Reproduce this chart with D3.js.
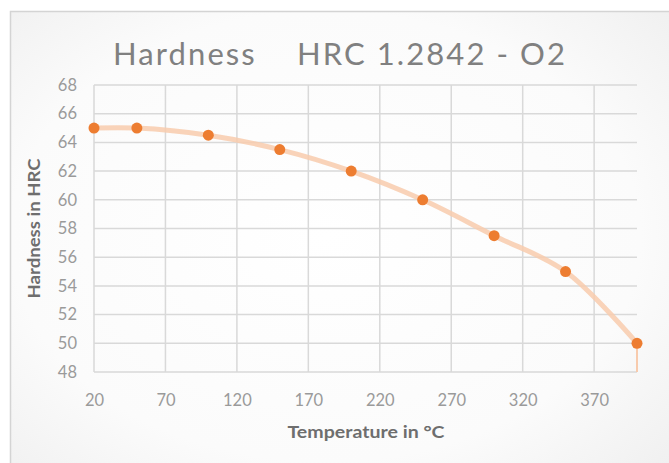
<!DOCTYPE html>
<html>
<head>
<meta charset="utf-8">
<script src="https://cdn.jsdelivr.net/npm/d3@7"></script>
<style>
  body { margin: 0; background: #fff; }
  text { font-family: Lato, "Open Sans", sans-serif; }
</style>
</head>
<body>
<svg id="chart" width="669" height="463"></svg>
<script>
var temps = [20, 50, 100, 150, 200, 250, 300, 350, 400];
var hardness = [65, 65, 64.5, 63.5, 62, 60, 57.5, 55, 50];
var xTicks = [20, 70, 120, 170, 220, 270, 320, 370];
var yTicks = [48, 50, 52, 54, 56, 58, 60, 62, 64, 66, 68];

var svg = d3.select("svg#chart");

// backdrop with soft gradient
var defs = svg.append("defs");
var grad = defs.append("radialGradient")
    .attr("id", "bg")
    .attr("cx", "45%").attr("cy", "45%").attr("r", "75%");
grad.append("stop").attr("offset", "0%").attr("stop-color", "#ffffff");
grad.append("stop").attr("offset", "60%").attr("stop-color", "#fbfbfb");
grad.append("stop").attr("offset", "100%").attr("stop-color", "#ececec");

svg.append("rect")
    .attr("x", 10.5).attr("y", 11.5)
    .attr("width", 700).attr("height", 500)
    .attr("fill", "url(#bg)")
    .attr("stroke", "#d4d4d4")
    .attr("stroke-width", 1.5);

var x = d3.scaleLinear().domain([20, 400]).range([94, 637]);
var y = d3.scaleLinear().domain([48, 68]).range([372, 85]);

// grid
svg.append("g").selectAll("line.h")
    .data(yTicks)
    .enter()
    .append("line")
    .attr("x1", x(20)).attr("x2", x(400))
    .attr("y1", d => y(d)).attr("y2", d => y(d))
    .attr("stroke", "#d9d9d9")
    .attr("stroke-width", 1.5);

svg.append("g").selectAll("line.v")
    .data(xTicks)
    .enter()
    .append("line")
    .attr("x1", d => x(d)).attr("x2", d => x(d))
    .attr("y1", y(68)).attr("y2", y(48))
    .attr("stroke", "#d9d9d9")
    .attr("stroke-width", 1.5);

// axes labels via d3 axes, no lines
var yAxis = svg.append("g")
    .attr("transform", "translate(" + x(20) + ",0)")
    .call(d3.axisLeft(y).tickValues(yTicks).tickSize(0).tickPadding(17));
var xAxis = svg.append("g")
    .attr("transform", "translate(0," + y(48) + ")")
    .call(d3.axisBottom(x).tickValues(xTicks).tickSize(0).tickPadding(22));
[yAxis, xAxis].forEach(function(a) {
    a.select(".domain").remove();
    a.selectAll("text")
        .attr("fill", "#9a9a9a")
        .style("font-size", "16.5px")
        .style("font-family", "Lato, sans-serif");
});

// series
var pts = temps.map((t, i) => ({t: t, h: hardness[i]}));
var line = d3.line()
    .x(d => x(d.t))
    .y(d => y(d.h))
    .curve(d3.curveCatmullRom.alpha(0.5));

svg.append("path")
    .datum(pts)
    .attr("d", line)
    .attr("fill", "none")
    .attr("stroke", "#f8cbad")
    .attr("stroke-opacity", 0.85)
    .attr("stroke-width", 5)
    .attr("stroke-linecap", "round");

var last = pts[pts.length - 1];
svg.append("line")
    .attr("x1", x(last.t)).attr("x2", x(last.t))
    .attr("y1", y(last.h)).attr("y2", y(48))
    .attr("stroke", "#f8cbad")
    .attr("stroke-width", 2);

svg.append("g").selectAll("circle")
    .data(pts)
    .enter()
    .append("circle")
    .attr("cx", d => x(d.t))
    .attr("cy", d => y(d.h))
    .attr("r", 5.5)
    .attr("fill", "#ed7d31");

// titles
svg.append("text")
    .attr("x", 339).attr("y", 65)
    .attr("text-anchor", "middle")
    .attr("fill", "#808080")
    .attr("textLength", 452)
    .attr("lengthAdjust", "spacing")
    .style("font-size", "31px")
    .style("white-space", "pre")
    .text("Hardness    HRC 1.2842 - O2");

svg.append("text")
    .attr("x", 366).attr("y", 438)
    .attr("text-anchor", "middle")
    .attr("fill", "#6e6e6e")
    .attr("textLength", 157)
    .attr("lengthAdjust", "spacingAndGlyphs")
    .style("font-size", "17.5px")
    .style("font-weight", "bold")
    .text("Temperature in °C");

svg.append("text")
    .attr("transform", "translate(40," + y(58) + ") rotate(-90)")
    .attr("text-anchor", "middle")
    .attr("fill", "#6e6e6e")
    .attr("textLength", 140)
    .attr("lengthAdjust", "spacingAndGlyphs")
    .style("font-size", "17px")
    .style("font-weight", "bold")
    .text("Hardness in HRC");
</script>
</body>
</html>
